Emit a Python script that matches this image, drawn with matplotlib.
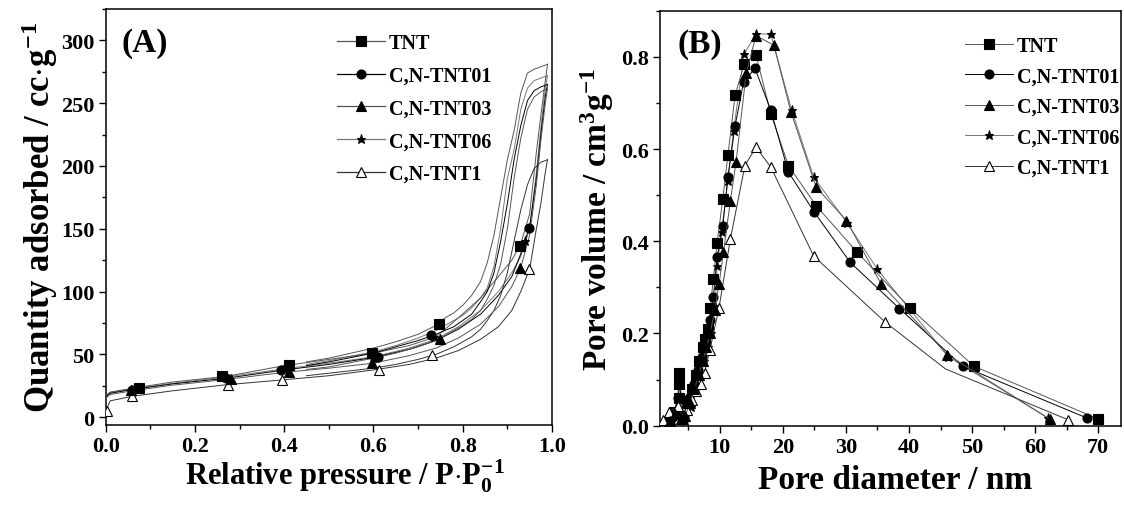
import matplotlib
matplotlib.use('Agg')
import matplotlib.pyplot as plt
from matplotlib.ticker import MultipleLocator

plt.rcParams['font.family'] = ['Liberation Serif', 'DejaVu Serif']
plt.rcParams['font.weight'] = 'bold'
plt.rcParams['mathtext.fontset'] = 'custom'
plt.rcParams['mathtext.rm'] = 'Liberation Serif:bold'
plt.rcParams['mathtext.it'] = 'Liberation Serif:bold'
plt.rcParams['mathtext.bf'] = 'Liberation Serif:bold'

samples = ['TNT', 'C,N-TNT01', 'C,N-TNT03', 'C,N-TNT06', 'C,N-TNT1']
markers = ['s', 'o', '^', '*', '^']
marker_faces = ['black', 'black', 'black', 'black', 'white']
line_colors = ['#555555', 'black', '#555555', '#777777', '#333333']

# ---- (A) N2 isotherms: adsorption + desorption branches ----
ads_p = [0.0, 0.01, 0.06, 0.15, 0.27, 0.40, 0.50, 0.60, 0.68, 0.74, 0.79,
         0.84, 0.88, 0.91, 0.93, 0.95, 0.965, 0.975, 0.985, 0.99]
des_p = [0.99, 0.975, 0.96, 0.945, 0.93, 0.915, 0.90, 0.885, 0.87, 0.855,
         0.84, 0.82, 0.80, 0.78, 0.76, 0.74, 0.70, 0.65, 0.60, 0.50, 0.45]

ads_tnt = [17, 20, 23, 28, 32.5, 41, 46, 51, 57, 64, 79, 95, 112, 125, 138, 162, 211, 240, 268, 281]
des_tnt = [281, 279, 277, 274, 258, 228, 205, 175, 145, 123, 108, 97, 89, 83, 79, 73, 66, 60, 55, 47, 44]
ads_01 = [16, 19, 22, 26.5, 31, 37.6, 42, 47.5, 54, 61, 70, 82, 97, 112, 130, 152, 190, 225, 255, 265]
des_01 = [265, 263, 260, 252, 232, 205, 170, 140, 115, 100, 92, 82, 77, 72, 69, 66, 61, 56, 51, 44, 41]
ads_03 = [15, 18, 21, 25.5, 30, 35.7, 39, 43, 49, 55, 63, 74, 88, 104, 119, 145, 185, 220, 250, 262]
des_03 = [262, 259, 255, 245, 222, 190, 150, 122, 105, 94, 85, 78, 73, 69, 65, 61, 56, 51, 47, 40, 38]
ads_06 = [16, 19.5, 22.5, 27, 32, 38.5, 43, 48, 55, 62, 72, 85, 100, 115, 128, 150, 195, 230, 262, 272]
des_06 = [272, 270, 268, 262, 245, 213, 190, 150, 120, 103, 95, 87, 81, 77, 73, 69, 63, 57, 52, 45, 42]
ads_1 = [4.7, 13, 16.6, 21, 25.8, 29.8, 33, 37.6, 42, 47, 53, 62, 72, 85, 100, 118, 150, 170, 195, 205]
des_1 = [205, 203, 198, 185, 165, 140, 115, 97, 85, 77, 70, 64, 60, 56, 53, 50, 46, 42, 39, 35, 33]

ads_all = [ads_tnt, ads_01, ads_03, ads_06, ads_1]
des_all = [des_tnt, des_01, des_03, des_06, des_1]

# symbols shown on the isotherms
mk_p_tnt = [0.075, 0.26, 0.411, 0.596, 0.747, 0.928]
mk_q_tnt = [23.2, 32.4, 41.6, 50.8, 74.5, 136]
mk_p_01 = [0.06, 0.27, 0.392, 0.611, 0.73, 0.948]
mk_q_01 = [22, 31, 37.6, 48.1, 65.3, 151]
mk_p_03 = [0.057, 0.28, 0.411, 0.596, 0.748, 0.928]
mk_q_03 = [21.5, 30, 35.7, 42.9, 62.6, 119]
mk_p_06 = [0.065, 0.27, 0.40, 0.60, 0.735, 0.94]
mk_q_06 = [22.5, 32, 38.5, 47.5, 64, 140]
mk_p_1 = [0.003, 0.058, 0.275, 0.394, 0.612, 0.731, 0.948]
mk_q_1 = [4.7, 16.6, 25.8, 29.8, 37.6, 49.5, 118]

mk_p_all = [mk_p_tnt, mk_p_01, mk_p_03, mk_p_06, mk_p_1]
mk_q_all = [mk_q_tnt, mk_q_01, mk_q_03, mk_q_06, mk_q_1]

# ---- (B) pore size distribution ----
d_tnt = [2.0, 2.8, 3.5, 3.6, 3.6, 4.2, 5.0, 5.6, 6.2, 6.8, 7.3, 7.6, 8.2, 8.5, 9.0,
         9.6, 10.5, 11.3, 12.45, 13.9, 15.75, 18.1, 20.9, 25.3, 31.8, 40.1, 50.3, 70.0]
v_tnt = [0.005, 0.03, 0.06, 0.09, 0.115, 0.02, 0.05, 0.08, 0.11, 0.14, 0.17, 0.187, 0.209, 0.256, 0.318,
         0.397, 0.492, 0.586, 0.717, 0.785, 0.804, 0.677, 0.564, 0.477, 0.376, 0.256, 0.129, 0.0145]
d_01 = [2.0, 2.8, 3.4, 3.5, 4.3, 5.2, 6.0, 6.6, 7.2, 7.8, 8.4, 9.0, 9.6, 10.5, 11.3,
        12.45, 13.8, 15.6, 18.1, 20.9, 25.0, 30.7, 38.5, 48.5, 68.2]
v_01 = [0.005, 0.03, 0.06, 0.10, 0.02, 0.06, 0.09, 0.12, 0.15, 0.18, 0.23, 0.28, 0.365, 0.434, 0.539,
        0.651, 0.746, 0.775, 0.684, 0.55, 0.463, 0.354, 0.254, 0.129, 0.0167]
d_03 = [2.2, 3.0, 3.8, 4.5, 5.3, 6.0, 6.7, 7.3, 7.9, 8.5, 9.2, 9.9, 10.6, 11.7, 12.6,
        14.2, 15.75, 18.6, 21.3, 25.3, 30.1, 35.6, 46.1, 62.3]
v_03 = [0.01, 0.025, 0.015, 0.02, 0.05, 0.08, 0.11, 0.14, 0.17, 0.20, 0.25, 0.307, 0.376, 0.488, 0.572,
        0.764, 0.846, 0.825, 0.68, 0.517, 0.445, 0.307, 0.154, 0.0145]
d_06 = [2.5, 3.5, 4.5, 5.5, 6.2, 6.9, 7.5, 8.1, 8.7, 9.3, 9.6, 10.3, 11.3, 12.2, 13.9,
        15.8, 18.1, 21.4, 24.9, 30.2, 35.0, 46.2, 62.0]
v_06 = [0.01, 0.02, 0.01, 0.04, 0.08, 0.11, 0.14, 0.17, 0.2, 0.26, 0.347, 0.42, 0.53, 0.64, 0.807,
        0.85, 0.849, 0.685, 0.539, 0.44, 0.339, 0.15, 0.0167]
d_1 = [1.05, 2.0, 3.33, 4.2, 4.9, 5.6, 6.3, 7.0, 7.6, 8.46, 9.9, 11.7, 14.0, 15.75, 18.1,
       24.9, 36.2, 45.8, 65.2]
v_1 = [0.013, 0.03, 0.042, 0.02, 0.035, 0.055, 0.075, 0.09, 0.115, 0.165, 0.256, 0.405, 0.564, 0.604, 0.561,
       0.368, 0.225, 0.123, 0.013]

d_all = [d_tnt, d_01, d_03, d_06, d_1]
v_all = [v_tnt, v_01, v_03, v_06, v_1]

fig = plt.figure(figsize=(11.24, 5.06), dpi=100)
ax_a = fig.add_axes([0.0940, 0.1587, 0.3971, 0.8215])
ax_b = fig.add_axes([0.5875, 0.1567, 0.4098, 0.8202])

z_order = [3, 4, 6, 2, 5]

# isotherms
handles_a = []
for i, name in enumerate(samples):
    ax_a.plot(ads_p, ads_all[i], color=line_colors[i], lw=0.7, zorder=z_order[i])
    ax_a.plot(des_p, des_all[i], color=line_colors[i], lw=0.7, zorder=z_order[i])
    ax_a.plot(mk_p_all[i], mk_q_all[i], ls='none', marker=markers[i], ms=6.5,
              mfc=marker_faces[i], mec='black', mew=0.8, zorder=z_order[i] + 5)
    h, = ax_a.plot([], [], color=line_colors[i], lw=0.9, marker=markers[i], ms=6.5,
                   mfc=marker_faces[i], mec='black', mew=0.8, label=name)
    handles_a.append(h)

# pore size distribution
handles_b = []
for i, name in enumerate(samples):
    every = None
    if name == 'C,N-TNT1':
        every = [k for k in range(len(d_all[i])) if k != 17]
    h, = ax_b.plot(d_all[i], v_all[i], color=line_colors[i], lw=0.7, marker=markers[i], ms=6.5,
                   mfc=marker_faces[i], mec='black', mew=0.8, markevery=every,
                   zorder=z_order[i], label=name)
    handles_b.append(h)

for ax in (ax_a, ax_b):
    for s in ax.spines.values():
        s.set_linewidth(1.1)
    ax.tick_params(which='both', direction='out', top=False, right=False,
                   labelsize=16, width=1.0, pad=3)
    ax.tick_params(which='major', length=5)
    ax.tick_params(which='minor', length=3)

ax_a.set_xlim(0, 1.0)
ax_a.set_ylim(-6, 325)
ax_a.xaxis.set_minor_locator(MultipleLocator(0.1))
ax_a.yaxis.set_minor_locator(MultipleLocator(25))
ax_a.set_xticks([0.0, 0.2, 0.4, 0.6, 0.8, 1.0])
ax_a.set_xticklabels(['0.0', '0.2', '0.4', '0.6', '0.8', '1.0'])
ax_a.set_yticks([0, 50, 100, 150, 200, 250, 300])
ax_a.set_xlabel(r'Relative pressure / P$\cdot$P$_0^{-1}$', fontsize=22, fontweight='bold', labelpad=1)
ax_a.xaxis.label.set_x(0.535)
ax_a.set_ylabel(r'Quantity adsorbed / cc$\cdot$g$^{-1}$', fontsize=25, fontweight='bold', labelpad=1)
ax_a.text(0.0365, 0.9206, '(A)', transform=ax_a.transAxes, fontsize=24, fontweight='bold', va='center')
ax_a.legend(handles=handles_a, loc='upper left', bbox_to_anchor=(0.5176, 0.942), frameon=False,
            fontsize=14.5, handlelength=2.4, handletextpad=0.2, labelspacing=0.63,
            borderaxespad=0, borderpad=0)

ax_b.set_xlim(0.6, 73.6)
ax_b.set_ylim(0, 0.9)
ax_b.xaxis.set_major_locator(MultipleLocator(10))
ax_b.xaxis.set_minor_locator(MultipleLocator(5))
ax_b.yaxis.set_minor_locator(MultipleLocator(0.1))
ax_b.set_yticks([0.0, 0.2, 0.4, 0.6, 0.8])
ax_b.set_yticklabels(['0.0', '0.2', '0.4', '0.6', '0.8'])
ax_b.set_xlabel('Pore diameter / nm', fontsize=24, fontweight='bold', labelpad=5)
ax_b.xaxis.label.set_x(0.51)
ax_b.set_ylabel(r'Pore volume / cm$^3$g$^{-1}$', fontsize=24, fontweight='bold', labelpad=4)
ax_b.text(0.038, 0.92, '(B)', transform=ax_b.transAxes, fontsize=24, fontweight='bold', va='center')
ax_b.legend(handles=handles_b, loc='upper left', bbox_to_anchor=(0.661, 0.939), frameon=False,
            fontsize=14.5, handlelength=2.4, handletextpad=0.2, labelspacing=0.52,
            borderaxespad=0, borderpad=0)

fig.savefig('out.png', dpi=100)
